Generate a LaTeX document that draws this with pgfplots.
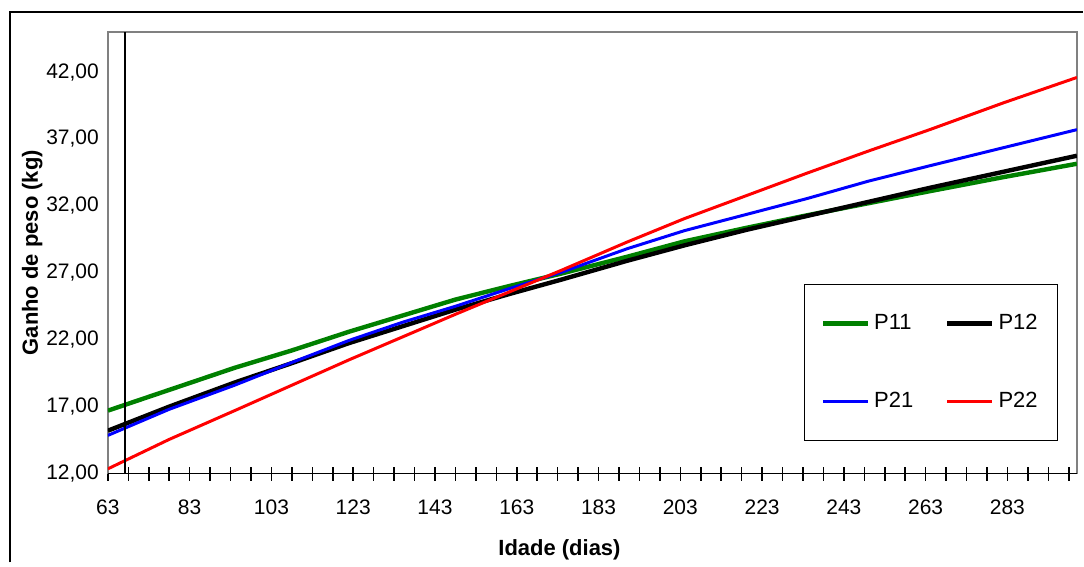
\documentclass[border=0pt]{standalone}
\usepackage{fontspec}
\setmainfont{Liberation Sans}
\usepackage{pgfplots}
\pgfplotsset{compat=1.18}
\definecolor{xlgreen}{RGB}{0,128,0}

\begin{document}
\begin{tikzpicture}
    \begin{axis}[
        scale only axis,
        width=485pt,
        height=221pt,
        xmin=63, xmax=300,
        ymin=12, ymax=45,
        axis line style={draw=gray, line width=0.8pt},
        xtick={63,83,...,283},
        minor xtick={68,73,...,298},
        tick align=center,
        major tick length=7pt,
        minor tick length=7pt,
        x tick style={black, line width=0.8pt},
        xtick pos=bottom,
        ytick={12,17,...,42},
        ytick style={draw=none},
        ytick pos=left,
        font=\fontsize{10.5}{12}\selectfont,
        /pgf/number format/assume math mode=true,
        xticklabel style={/pgf/number format/1000 sep={}, yshift=-6pt},
        yticklabel style={xshift=2.5pt, /pgf/number format/.cd, fixed, fixed zerofill, precision=2, use comma, assume math mode=true},
        xlabel={\bfseries Idade (dias)},
        ylabel={\bfseries Ganho de peso (kg)},
        x label style={at={(axis description cs:0.466,0)}, anchor=center, yshift=-38pt, font=\fontsize{11}{13}\selectfont},
        y label style={at={(axis description cs:-0.078,0.5)}, anchor=center, font=\fontsize{11}{13}\selectfont},
        legend columns=2,
        legend cell align=left,
        legend image code/.code={\draw[#1] (0pt,0pt) -- (22.5pt,0pt);},
        legend style={at={(rel axis cs:0.7186,0.43)}, anchor=north west,
            draw=black, line width=0.6pt, inner xsep=8pt, inner ysep=13pt,
            row sep=26pt, font=\fontsize{11}{13}\selectfont,
            /tikz/every even column/.append style={column sep=14pt}},
    ]
    % P11
    \addplot[xlgreen, line width=2.2pt] coordinates {
        (63,16.7) (78,18.25) (94,19.9) (108,21.2) (122,22.6) (135,23.8)
        (148,25.0) (161,26.0) (174,26.95) (190,28.2) (204,29.35) (219,30.35)
        (234,31.3) (249,32.2) (264,33.1) (282,34.15) (300,35.15)
    };
    \addlegendentry{P11}
    % P12
    \addplot[black, line width=2.2pt] coordinates {
        (63,15.2) (78,17.0) (94,18.8) (108,20.25) (122,21.75) (135,23.0)
        (148,24.25) (161,25.4) (174,26.5) (190,27.9) (204,29.05) (219,30.2)
        (234,31.25) (249,32.3) (264,33.35) (282,34.55) (300,35.75)
    };
    \addlegendentry{P12}
    % P21
    \addplot[blue, line width=1.5pt] coordinates {
        (63,14.85) (78,16.8) (94,18.6) (108,20.3) (122,21.95) (135,23.3)
        (148,24.5) (161,25.8) (174,27.05) (190,28.8) (204,30.15) (219,31.35)
        (234,32.55) (249,33.85) (264,35.0) (282,36.35) (300,37.7)
    };
    \addlegendentry{P21}
    % P22
    \addplot[red, line width=1.5pt] coordinates {
        (63,12.35) (78,14.55) (94,16.7) (108,18.6) (122,20.5) (135,22.2)
        (148,23.9) (161,25.55) (174,27.2) (190,29.3) (204,31.05) (219,32.75)
        (234,34.45) (249,36.1) (264,37.7) (282,39.7) (300,41.6)
    };
    \addlegendentry{P22}

    % x axis line and the vertical axis with its crossing ticks
    \draw[black, line width=1pt] (rel axis cs:0,0) -- (rel axis cs:1,0);
    \draw[black, line width=1pt] (axis cs:67.3,12) -- (axis cs:67.3,45);
    \pgfplotsinvokeforeach{12,17,...,42}{
        \draw[black, line width=0.8pt] (axis cs:67.3,#1) ++(-3pt,0) -- ++(6pt,0);
    }
    \end{axis}
    % outer chart frame
    \draw[black, line width=1.1pt] (-49pt,-44.5pt) -- (-49pt,231pt) -- (488pt,231pt);
    \useasboundingbox (-54pt,-44.5pt) rectangle (488pt,237pt);
\end{tikzpicture}
\end{document}
